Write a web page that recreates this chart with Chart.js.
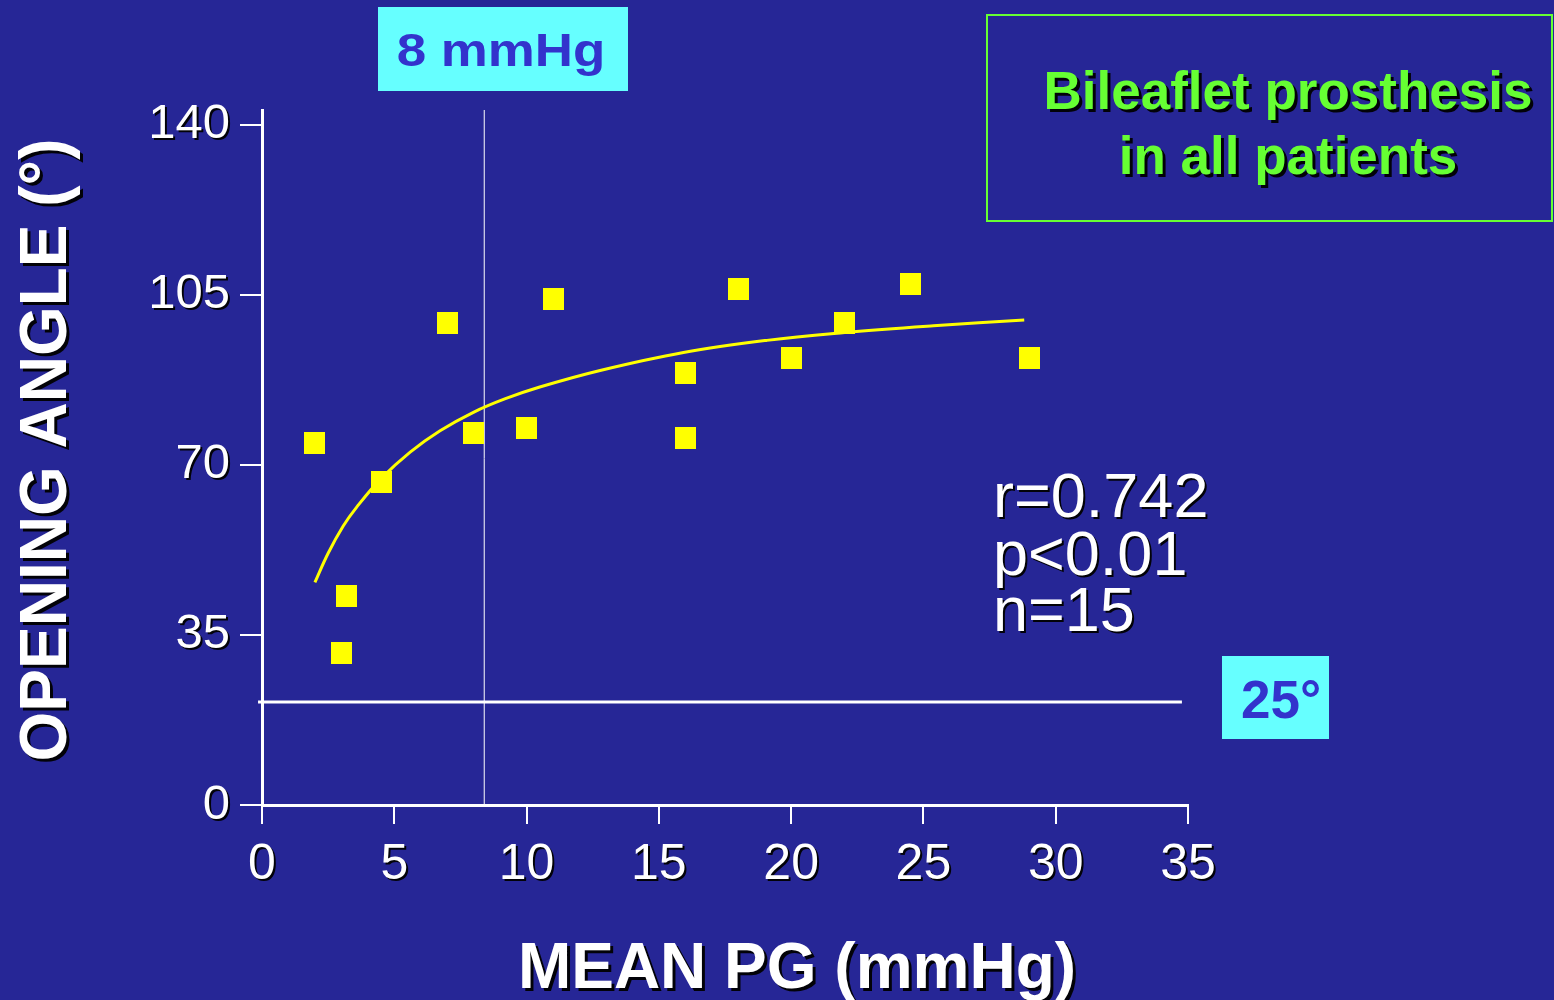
<!DOCTYPE html>
<html><head><meta charset="utf-8">
<script src="https://cdn.jsdelivr.net/npm/chart.js@4.4.1/dist/chart.umd.min.js"></script>
<style>
html,body{margin:0;padding:0;background:#262696;overflow:hidden}
#wrap{width:1554px;height:1000px;position:relative}
canvas{display:block}
</style></head>
<body><div id="wrap"><canvas id="c" width="1554" height="1000"></canvas></div>
<script>
// Data
const pgX    = [2.0, 3.2, 3.0, 4.5, 7.0, 8.0, 10.0, 11.0, 16.0, 16.0, 18.0, 20.0, 22.0, 24.5, 29.0];
const angleY = [74.5, 43.0, 31.3, 66.5, 99.2, 76.6, 77.6, 104.2, 88.9, 75.6, 106.2, 92.0, 99.2, 107.3, 92.0];
const fitX   = [2.0, 2.5, 3.07, 3.58, 4.51, 5.6, 6.73, 7.99, 9.2, 10.5, 12.78, 15.93, 19.08, 22.03, 25.38, 28.81];
const fitY   = [45.8, 51.8, 57.4, 61.3, 67.2, 72.6, 77.0, 80.8, 83.6, 86.0, 89.4, 93.1, 95.6, 97.2, 98.6, 99.8];
const xTicks = [0, 5, 10, 15, 20, 25, 30, 35];
const yTicks = [0, 35, 70, 105, 140];
const vLineX = [8.4, 8.4];
const vLineY = [-0.4, 143];
const hLineX = [-0.15, 34.77];
const hLineY = [21.2, 21.2];
const statLines = ['r=0.742', 'p<0.01', 'n=15'];
const titleX = 'MEAN PG (mmHg)';
const titleY = 'OPENING ANGLE (°)';
const boxPG = '8 mmHg';
const boxAngle = '25°';
const noteLines = ['Bileaflet prosthesis', 'in all patients'];

const BG = '#262696';
const FONT = '"Liberation Sans", Arial, Helvetica, sans-serif';

const zip = (xs, ys) => xs.map((x, i) => ({x: x, y: ys[i]}));

// square marker
const marker = document.createElement('canvas');
marker.width = 21; marker.height = 22;
(function(){ const m = marker.getContext('2d'); m.fillStyle = '#FFFF00'; m.fillRect(0,0,21,22); })();

const bgPlugin = {
  id: 'bg',
  beforeDraw(chart) {
    const ctx = chart.ctx;
    ctx.save();
    ctx.fillStyle = BG;
    ctx.fillRect(0, 0, chart.width, chart.height);
    ctx.restore();
  },
  afterDatasetsDraw(chart) {
    // shadow for tick labels (drawn after datasets, ticks.z = 1)
    const ctx = chart.ctx;
    ctx.shadowColor = 'rgba(0,0,0,0.95)';
    ctx.shadowOffsetX = 2;
    ctx.shadowOffsetY = 2;
    ctx.shadowBlur = 0;
  },
  afterDraw(chart) {
    const ctx = chart.ctx;
    ctx.shadowColor = 'rgba(0,0,0,0)';
    ctx.shadowOffsetX = 0; ctx.shadowOffsetY = 0;
    ctx.save();
    // 8 mmHg box
    ctx.fillStyle = '#66FFFF';
    ctx.fillRect(378, 7, 250, 84);
    ctx.fillStyle = '#3333CC';
    ctx.font = 'bold 46px ' + FONT;
    ctx.textAlign = 'center';
    ctx.textBaseline = 'alphabetic';
    ctx.save();
    ctx.translate(501, 66);
    ctx.scale(1.15, 1);
    ctx.fillText(boxPG, 0, 0);
    ctx.restore();
    // 25° box
    ctx.fillStyle = '#66FFFF';
    ctx.fillRect(1222, 656, 107, 83);
    ctx.fillStyle = '#3333CC';
    ctx.font = 'bold 53px ' + FONT;
    ctx.fillText(boxAngle, 1281, 718);
    // green note box
    ctx.strokeStyle = '#66FF33';
    ctx.lineWidth = 2;
    ctx.strokeRect(987, 15, 565, 206);
    ctx.shadowColor = 'rgba(0,0,0,0.95)';
    ctx.shadowOffsetX = 3; ctx.shadowOffsetY = 3;
    ctx.fillStyle = '#66FF33';
    ctx.font = 'bold 53px ' + FONT;
    ctx.fillText(noteLines[0], 1288, 109);
    ctx.fillText(noteLines[1], 1288, 174);
    // stats
    ctx.shadowOffsetX = 2; ctx.shadowOffsetY = 2;
    ctx.fillStyle = '#FFFFFF';
    ctx.font = '63px ' + FONT;
    ctx.textAlign = 'left';
    const sb = [517, 575, 631];
    statLines.forEach((s, i) => ctx.fillText(s, 993, sb[i]));
    // axis titles
    ctx.shadowOffsetX = 3; ctx.shadowOffsetY = 3;
    ctx.font = 'bold 64px ' + FONT;
    ctx.textAlign = 'center';
    ctx.fillText(titleX, 797, 988);
    ctx.save();
    ctx.translate(48, 450);
    ctx.rotate(-Math.PI / 2);
    ctx.scale(1, 1.04);
    ctx.textBaseline = 'middle';
    ctx.fillText(titleY, 0, 0);
    ctx.restore();
    ctx.restore();
  }
};

new Chart(document.getElementById('c'), {
  type: 'scatter',
  data: {
    datasets: [
      {
        label: 'patients',
        data: zip(pgX, angleY),
        pointStyle: marker,
        pointRadius: 11,
        backgroundColor: '#FFFF00',
        borderWidth: 0
      },
      {
        type: 'line',
        label: 'fit',
        data: zip(fitX, fitY),
        showLine: true,
        borderColor: '#FFFF00',
        borderWidth: 3,
        pointRadius: 0,
        tension: 0.4,
        fill: false
      },
      {
        type: 'line',
        label: 'pg cutoff',
        data: zip(vLineX, vLineY),
        borderColor: '#FFFFFF',
        borderWidth: 1,
        pointRadius: 0,
        clip: false,
        fill: false
      },
      {
        type: 'line',
        label: 'angle cutoff',
        data: zip(hLineX, hLineY),
        borderColor: '#FFFFFF',
        borderWidth: 3,
        pointRadius: 0,
        clip: false,
        fill: false
      }
    ]
  },
  options: {
    responsive: false,
    animation: false,
    devicePixelRatio: 1,
    events: [],
    layout: { padding: { left: 0, top: 110, right: 366, bottom: 0 } },
    plugins: { legend: { display: false }, tooltip: { enabled: false }, title: { display: false } },
    scales: {
      x: {
        type: 'linear',
        position: 'bottom',
        min: 0, max: 35,
        afterBuildTicks: s => { s.ticks = xTicks.map(v => ({value: v})); },
        afterFit: s => { s.height = 195; },
        grid: { display: true, drawOnChartArea: false, drawTicks: true, tickLength: 19, color: '#FFFFFF', lineWidth: 2 },
        border: { display: true, color: '#FFFFFF', width: 3 },
        ticks: { color: '#FFFFFF', font: { family: FONT, size: 50 }, padding: 11, z: 1, maxRotation: 0, autoSkip: false },
        title: { display: false }
      },
      y: {
        type: 'linear',
        position: 'left',
        min: 0, max: 143,
        afterBuildTicks: s => { s.ticks = yTicks.map(v => ({value: v})); },
        afterFit: s => { s.width = 262; },
        grid: { display: true, drawOnChartArea: false, drawTicks: true, tickLength: 22, color: '#FFFFFF', lineWidth: 2 },
        border: { display: true, color: '#FFFFFF', width: 3 },
        ticks: { color: '#FFFFFF', font: { family: FONT, size: 49 }, padding: 10, z: 1, autoSkip: false },
        title: { display: false }
      }
    }
  },
  plugins: [bgPlugin]
});
</script>
</body></html>
